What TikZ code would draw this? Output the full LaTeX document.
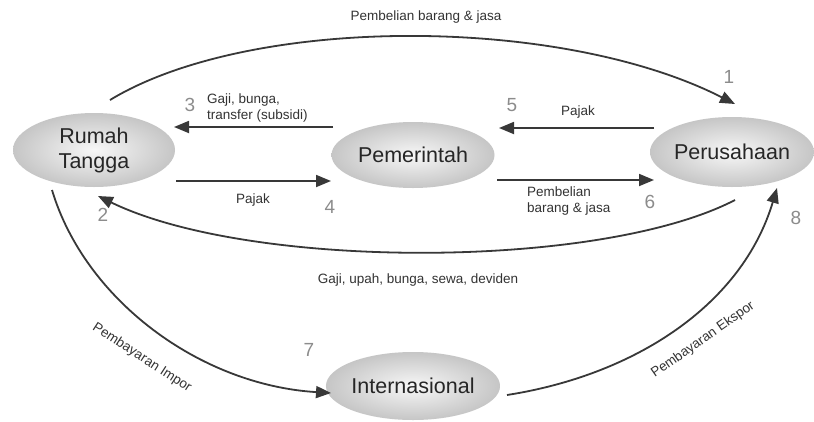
\documentclass[tikz,border=0pt]{standalone}
\usepackage{fontspec}
\setmainfont{Liberation Sans}
\usetikzlibrary{shapes.geometric,arrows.meta}
\begin{document}
\begin{tikzpicture}[x=1pt,y=-1pt,
 sector/.style={ellipse, inner sep=0pt, shading=radial, inner color=gray!6, outer color=gray!45, font=\fontsize{21.5}{25}\selectfont, text=black!85, align=center},
 flow/.style={draw=black!78, line width=1.8pt, -{Triangle[length=15pt,width=12pt]}},
 lbl/.style={font=\fontsize{13.5}{16.5}\selectfont, text=black!80, align=left, inner sep=0pt},
 num/.style={font=\fontsize{19}{20}\selectfont, text=black!45, inner sep=0pt}]
\useasboundingbox[fill=white] (0,0) rectangle (814,421);
% sectors
\node[sector, minimum width=162pt, minimum height=74pt] (rt) at (94,150) {Rumah\\Tangga};
\node[sector, minimum width=163pt, minimum height=66pt] (pm) at (413,155) {Pemerintah};
\node[sector, minimum width=150pt, minimum height=70pt] (ps) at (732,152) {Perusahaan};
\node[sector, minimum width=167pt, minimum height=68pt] (in) at (413,386) {Internasional};
% end points
\coordinate (t1) at (110,100);
\coordinate (t2) at (735,104);
\coordinate (g1) at (735,200);
\coordinate (g2) at (98,196);
\coordinate (i1) at (52,190);
\coordinate (i2) at (331,393);
\coordinate (e1) at (507,395);
\coordinate (e2) at (777,188);
\coordinate (s3a) at (333,127); \coordinate (s3b) at (174,127);
\coordinate (s5a) at (654,128); \coordinate (s5b) at (499,128);
\coordinate (s4a) at (176,181); \coordinate (s4b) at (331,181);
\coordinate (s6a) at (497,180); \coordinate (s6b) at (654,180);
% connectors
\draw[flow] (t1) .. controls (250,15) and (560,15) .. (t2);
\draw[flow] (g1) .. controls (600,270) and (250,270) .. (g2);
\draw[flow] (i1) .. controls (85,300) and (200,385) .. (i2);
\draw[flow] (e1) .. controls (635,375) and (742,305) .. (e2);
\draw[flow] (s3a) -- (s3b);
\draw[flow] (s5a) -- (s5b);
\draw[flow] (s4a) -- (s4b);
\draw[flow] (s6a) -- (s6b);
% labels
\node[lbl] (l1) at (426,17) {Pembelian barang \& jasa};
\node[lbl, anchor=west] (l3) at (207,108) {Gaji, bunga,\\transfer (subsidi)};
\node[lbl] (l5) at (578,112) {Pajak};
\node[lbl] (l4) at (253,200) {Pajak};
\node[lbl, anchor=west] (l6) at (527,201) {Pembelian\\barang \& jasa};
\node[lbl] (l2) at (418,280) {Gaji, upah, bunga, sewa, deviden};
\node[lbl, rotate=-33] (l7) at (142,358) {Pembayaran Impor};
\node[lbl, rotate=35] (l8) at (703,340) {Pembayaran Ekspor};
% numbers
\node[num] (n1) at (729,77) {1};
\node[num] (n2) at (103,215) {2};
\node[num] (n3) at (190,105) {3};
\node[num] (n4) at (330,207) {4};
\node[num] (n5) at (512,105) {5};
\node[num] (n6) at (650,202) {6};
\node[num] (n7) at (309,350) {7};
\node[num] (n8) at (796,218) {8};
\end{tikzpicture}
\end{document}
